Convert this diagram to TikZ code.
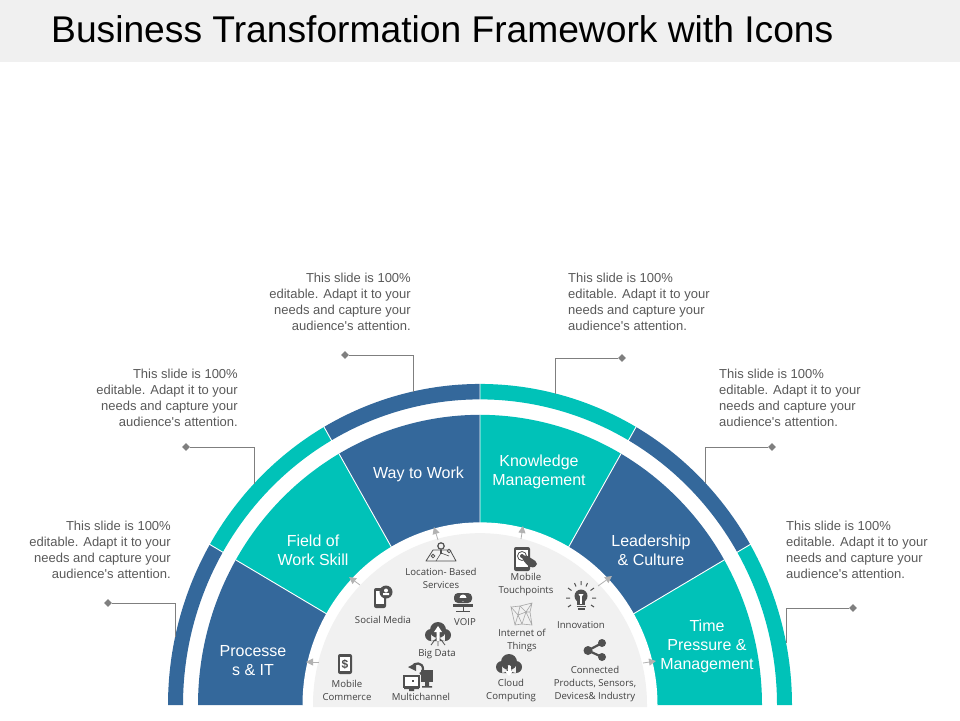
\documentclass[tikz,border=0pt]{standalone}
\usepackage{fontspec}
\setmainfont{Liberation Sans}
\newfontfamily\iconlabelfont{Open Sans}
\usetikzlibrary{shapes.geometric,arrows.meta}
\definecolor{bandgray}{HTML}{F0F0F0}
\definecolor{hubgray}{HTML}{F1F1F1}
\definecolor{segblue}{HTML}{34689B}
\definecolor{segteal}{HTML}{00C2B8}
\definecolor{bodygray}{HTML}{595959}
\definecolor{leadgray}{HTML}{7F7F7F}
\definecolor{icongray}{HTML}{505050}
\tikzset{
  seglabel/.style={text=white,font=\fontsize{16}{19}\selectfont,align=center,inner sep=0pt},
  bodyleft/.style={text=bodygray,font=\fontsize{13}{16}\selectfont,align=right,anchor=north east,inner sep=0pt},
  bodyright/.style={text=bodygray,font=\fontsize{13}{16}\selectfont,align=left,anchor=north west,inner sep=0pt},
  iconlabel/.style={text=black!75,font=\iconlabelfont\fontsize{9.6}{13}\selectfont,align=center,inner sep=0pt},
  enddot/.style={diamond,fill=leadgray,minimum size=8pt,inner sep=0pt},
  leader/.style={draw=leadgray,line width=0.9pt},
  pointer/.style={draw=black!30,line width=0.8pt,-{Triangle[length=7pt,width=7pt]}},
  icon/.style={fill=icongray,draw=none},
  cloudicon/.pic={
    \fill[icon] (-7,3) circle (6) (0,-2) circle (8) (7,3) circle (6) (-7,1) rectangle (7,9);
  }
}
\newcommand{\bodytext}{This slide is 100\%\\editable. Adapt it to your\\needs and capture your\\audience\textquotesingle s attention.}
\begin{document}
\begin{tikzpicture}[x=1pt,y=-1pt]
  \useasboundingbox (0,0) rectangle (960,720);
  \fill[bandgray] (0,0) rectangle (960,62);
  \node[anchor=base west,inner sep=0pt,font=\fontsize{37.2}{40}\selectfont] (title) at (51,42) {Business Transformation Framework with Icons};

  % rings and segments
  \begin{scope}[shift={(480,705)},y=1.029pt]
    \fill[segblue] (180:312) arc (180:150:312) -- (150:297) arc (150:180:297) -- cycle;
    \fill[segteal] (150:312) arc (150:120:312) -- (120:297) arc (120:150:297) -- cycle;
    \fill[segblue] (120:312) arc (120:90:312) -- (90:297) arc (90:120:297) -- cycle;
    \fill[segteal] (90:312) arc (90:60:312) -- (60:297) arc (60:90:297) -- cycle;
    \fill[segblue] (60:312) arc (60:30:312) -- (30:297) arc (30:60:297) -- cycle;
    \fill[segteal] (30:312) arc (30:0:312) -- (0:297) arc (0:30:297) -- cycle;
    \fill[segblue] (180:282) arc (180:150:282) -- (150:177) arc (150:180:177) -- cycle;
    \fill[segteal] (150:282) arc (150:120:282) -- (120:177) arc (120:150:177) -- cycle;
    \fill[segblue] (120:282) arc (120:90:282) -- (90:177) arc (90:120:177) -- cycle;
    \fill[segteal] (90:282) arc (90:60:282) -- (60:177) arc (60:90:177) -- cycle;
    \fill[segblue] (60:282) arc (60:30:282) -- (30:177) arc (30:60:177) -- cycle;
    \fill[segteal] (30:282) arc (30:0:282) -- (0:177) arc (0:30:177) -- cycle;
    \draw[white,line width=0.9pt] (150:177) -- (150:282) (120:177) -- (120:282) (90:177) -- (90:282)
      (60:177) -- (60:282) (30:177) -- (30:282);
    \draw[white,line width=0.9pt] (150:296) -- (150:313) (120:296) -- (120:313) (90:296) -- (90:313)
      (60:296) -- (60:313) (30:296) -- (30:313);
    \fill[white] (180:177.5) arc (180:0:177.5) -- cycle;
    \fill[hubgray] (180:167) arc (180:0:167) -- (167,-2) -- (-167,-2) -- cycle;
  \end{scope}

  % segment labels
  \node[seglabel] (processes) at (253,661) {Processe\\s \& IT};
  \node[seglabel] (field) at (313,550) {Field of\\Work Skill};
  \node[seglabel] (way) at (418.5,474) {Way to Work};
  \node[seglabel] (knowledge) at (539,472) {Knowledge\\Management};
  \node[seglabel] (leadership) at (651,550) {Leadership\\\& Culture};
  \node[seglabel] (time) at (707,646) {Time\\Pressure \&\\Management};

  % callout texts
  \node[bodyleft] (txt1) at (171,521) {\bodytext};
  \node[bodyleft] (txt2) at (238,369) {\bodytext};
  \node[bodyleft] (txt3) at (411,273) {\bodytext};
  \node[bodyright] (txt4) at (568,273) {\bodytext};
  \node[bodyright] (txt5) at (719,369) {\bodytext};
  \node[bodyright] (txt6) at (786,521) {\bodytext};

  % callout leaders
  \node[enddot] (dot1) at (108,603) {};
  \node[enddot] (dot2) at (186,447) {};
  \node[enddot] (dot3) at (345,355) {};
  \node[enddot] (dot4) at (622,358) {};
  \node[enddot] (dot5) at (772,447) {};
  \node[enddot] (dot6) at (853,608) {};
  \coordinate (ring1) at (175,637);
  \coordinate (ring2) at (254,484);
  \coordinate (ring3) at (413,392);
  \coordinate (ring4) at (555,394);
  \coordinate (ring5) at (705,483);
  \coordinate (ring6) at (786,643);
  \draw[leader] (dot1) -| (ring1);
  \draw[leader] (dot2) -| (ring2);
  \draw[leader] (dot3) -| (ring3);
  \draw[leader] (dot4) -| (ring4);
  \draw[leader] (dot5) -| (ring5);
  \draw[leader] (dot6) -| (ring6);

  % pointers from the hub
  \coordinate (tail1) at (319,662);
  \coordinate (tip1) at (306,662);
  \coordinate (tail2) at (360,585);
  \coordinate (tip2) at (349,577);
  \coordinate (tail3) at (438,540);
  \coordinate (tip3) at (434,527);
  \coordinate (tail4) at (521,539);
  \coordinate (tip4) at (523,526);
  \coordinate (tail5) at (598,586);
  \coordinate (tip5) at (612,576);
  \coordinate (tail6) at (643,663);
  \coordinate (tip6) at (656,661);
  \draw[pointer] (tail1) -- (tip1);
  \draw[pointer] (tail2) -- (tip2);
  \draw[pointer] (tail3) -- (tip3);
  \draw[pointer] (tail4) -- (tip4);
  \draw[pointer] (tail5) -- (tip5);
  \draw[pointer] (tail6) -- (tip6);

  % icon labels
  \node[iconlabel] (location) at (441,578) {Location- Based\\Services};
  \node[iconlabel] (touch) at (526,584) {Mobile\\Touchpoints};
  \node[iconlabel] (social) at (383,620) {Social Media};
  \node[iconlabel] (voip) at (465,622) {VOIP};
  \node[iconlabel] (innovation) at (581,625) {Innovation};
  \node[iconlabel] (iot) at (522,640) {Internet of\\Things};
  \node[iconlabel] (bigdata) at (437,654) {Big Data};
  \node[iconlabel] (connected) at (595,683.5) {Connected\\Products, Sensors,\\Devices\& Industry};
  \node[iconlabel] (commerce) at (347,690) {Mobile\\Commerce};
  \node[iconlabel] (multi) at (421,696.5) {Multichannel};
  \node[iconlabel] (cloud) at (511,690) {Cloud\\Computing};

  % mobile commerce icon
  \fill[icon,rounded corners=2pt] (338,654) rectangle (352,674);
  \fill[white] (340,657) rectangle (350,671);
  \node[inner sep=0pt,text=icongray,font=\bfseries\fontsize{12}{12}\selectfont] (dollar) at (345,664) {\$};
  % social media icon
  \fill[icon,rounded corners=2pt] (374,588) rectangle (386,608);
  \fill[white] (376,591) rectangle (384,604);
  \fill[icon] (386,592) circle (6.5);
  \fill[white] (386,590.5) circle (2) (383,595) rectangle (389,593);
  % location icon
  \draw[icongray,line width=0.8pt,line join=round] (426,561) -- (433,550) -- (450,550) -- (456,561) -- cycle;
  \draw[icongray,line width=0.6pt] (436,561) -- (441,553) -- (449,556);
  \draw[icongray,fill=hubgray,line width=1.2pt] (441,546) circle (3.2);
  \draw[icongray,line width=1.2pt] (441,549.5) -- (441,554);
  \draw[icongray,fill=hubgray,line width=0.8pt] (433,556) circle (1.8) (449,551) circle (1.8);
  % voip icon
  \fill[icon,rounded corners=4pt] (454,603) -- (454,593) -- (472,593) -- (472,603) -- cycle;
  \fill[white] (463,598) circle (3.5);
  \fill[icon] (459,598) rectangle (467,601);
  \fill[icon] (453,603.5) rectangle (473,607);
  \draw[icongray,line width=0.8pt] (463,607) -- (463,611) (456,611.5) -- (470,611.5);
  % big data icon
  \pic at (438,632) {cloudicon};
  \fill[white] (438,626) -- (442,632) -- (439.5,632) -- (439.5,641) -- (436.5,641) -- (436.5,632) -- (434,632) -- cycle;
  \draw[icongray,line width=0.8pt] (438,641) -- (438,646) (434,641) -- (431,645) (442,641) -- (445,645);
  % multichannel icon
  \fill[icon] (421,670) rectangle (433,682);
  \fill[icon] (425,682) rectangle (429,686) (422,686) rectangle (432,687.5);
  \fill[white] (403,675) rectangle (420,689);
  \draw[icongray,line width=1.3pt] (404,676) rectangle (419,687);
  \fill[icon] (404,687) rectangle (419,689) (409,689) rectangle (414,691);
  \fill[icon] (412,680) rectangle (414,682);
  \draw[icongray,line width=2.2pt] (412,667) .. controls (414,662) and (423,662) .. (423,669) .. controls (423,671) and (422,673) .. (420,674);
  \fill[icon] (408,667) -- (416,663) -- (416,671) -- cycle;
  % cloud computing icon
  \pic at (509,664) {cloudicon};
  \fill[white] (507.5,666) rectangle (510.5,672);
  \fill[white] (505,671) -- (513,671) -- (509,676) -- cycle;
  % touchpoints icon
  \fill[icon,rounded corners=2pt] (514,547) rectangle (530,571);
  \fill[white] (516,550) rectangle (528,567);
  \draw[icongray,line width=0.8pt] (522,556) circle (4.5);
  \fill[icon] (522,556) circle (2);
  \fill[icon,rounded corners=2pt] (521,556) -- (526,555) -- (537,562) -- (537,566) -- (531,568) -- (525,563) -- cycle;
  % internet of things icon
  \draw[black!35,line width=0.6pt] (511,607) -- (520,606) -- (532,603) -- (530,612) -- (532,625) -- (522,624) -- (515,625)
    -- (511,607) -- (518,615) -- (520,606) -- (526,612) -- (530,612) (518,615) -- (526,612) -- (522,624) -- (518,615) -- (515,625)
    (526,612) -- (532,603) (526,612) -- (532,625);
  % innovation icon
  \fill[icon] (581,596) circle (6.5);
  \fill[icon] (577,598) rectangle (585,605);
  \fill[white] (578.5,594) -- (583.5,594) -- (581,598) -- cycle;
  \fill[white] (580.4,597) rectangle (581.6,604);
  \draw[icongray,line width=1.2pt] (576.5,606.5) -- (585.5,606.5) (577.5,609) -- (584.5,609);
  \draw[icongray,line width=1pt] (566,598) -- (570,598) (592,598) -- (596,598) (568,588) -- (571.5,590.5) (594,588) -- (590.5,590.5)
    (574.5,583) -- (576,586.5) (587.5,583) -- (586,586.5) (581,581) -- (581,585) (568,607) -- (571,605) (594,607) -- (591,605);
  % share icon
  \draw[icongray,line width=2.2pt] (602,643) -- (588,650.5) -- (602,657);
  \fill[icon] (602,643) circle (4) (588,650.5) circle (4.5) (602,657) circle (4);
\end{tikzpicture}
\end{document}
